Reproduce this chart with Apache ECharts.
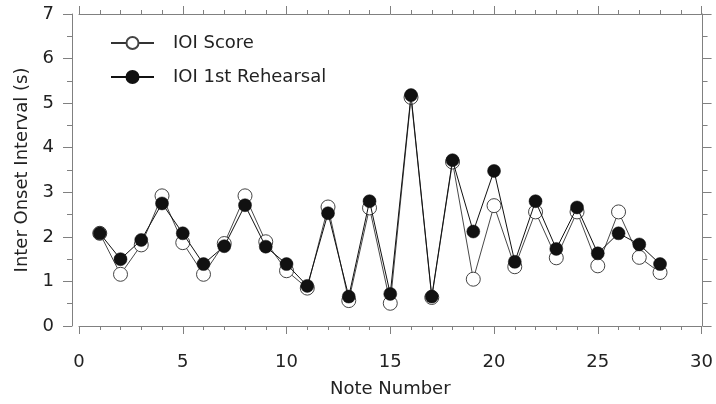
<!DOCTYPE html>
<html>
<head>
<meta charset="utf-8">
<script src="https://cdn.jsdelivr.net/npm/echarts@6/dist/echarts.min.js"></script>
<style>
html,body{margin:0;padding:0;background:#fff;}
#chart{width:716px;height:404px;}
</style>
</head>
<body>
<div id="chart"></div>
<script>
var noteNumbers = [1,2,3,4,5,6,7,8,9,10,11,12,13,14,15,16,17,18,19,20,21,22,23,24,25,26,27,28];
var ioiScore = [2.08,1.16,1.82,2.92,1.87,1.16,1.85,2.92,1.89,1.24,0.85,2.67,0.57,2.65,0.51,5.13,0.64,3.68,1.05,2.70,1.33,2.56,1.53,2.56,1.35,2.56,1.54,1.20];
var ioiRehearsal = [2.08,1.50,1.93,2.75,2.08,1.39,1.79,2.71,1.78,1.39,0.90,2.53,0.66,2.80,0.72,5.18,0.66,3.72,2.12,3.48,1.44,2.80,1.73,2.66,1.63,2.08,1.83,1.39];
var xTicks = [0,5,10,15,20,25,30];
var yTicks = [0,1,2,3,4,5,6,7];

var FONT = 'DejaVu Sans';
var axisColor = '#808080';
var textColor = '#222';

function pairs(xs, ys){ return xs.map(function(x,i){ return [x, ys[i]]; }); }

var chart = echarts.init(document.getElementById('chart'));
var baseX = {
  type:'value', min:xTicks[0], max:xTicks[xTicks.length-1], interval:5,
  axisLine:{show:true, onZero:false, lineStyle:{color:axisColor, width:1}},
  axisTick:{show:true, inside:false, length:8, lineStyle:{color:axisColor}},
  minorTick:{show:true, splitNumber:5, length:4, lineStyle:{color:axisColor}},
  splitLine:{show:false}
};
var baseY = {
  type:'value', min:yTicks[0], max:yTicks[yTicks.length-1], interval:1,
  axisLine:{show:true, onZero:false, lineStyle:{color:axisColor, width:1}},
  axisTick:{show:true, inside:false, length:9, lineStyle:{color:axisColor}},
  minorTick:{show:true, splitNumber:2, length:5, lineStyle:{color:axisColor}},
  splitLine:{show:false}
};
var option = {
  animation:false,
  backgroundColor:'#fff',
  grid:{left:79, right:14, top:14, bottom:78, containLabel:false},
  legend:{
    orient:'vertical', left:105, top:29, itemGap:16,
    itemWidth:43, itemHeight:15,
    textStyle:{fontFamily:FONT, fontSize:18, color:textColor, padding:[0,0,0,14]},
    data:['IOI Score','IOI 1st Rehearsal']
  },
  xAxis:[
    Object.assign({}, baseX, {
      position:'bottom',
      name:'Note Number', nameLocation:'middle', nameGap:54,
      nameTextStyle:{fontFamily:FONT, fontSize:18, color:textColor},
      axisLabel:{show:true, margin:27, fontFamily:FONT, fontSize:18, color:textColor,
        formatter:function(v){ return xTicks.indexOf(v)>=0 ? String(v) : ''; }}
    }),
    Object.assign({}, baseX, {position:'top', axisLabel:{show:false}})
  ],
  yAxis:[
    Object.assign({}, baseY, {
      position:'left', offset:7,
      name:'Inter Onset Interval (s)', nameLocation:'middle', nameGap:40,
      nameTextStyle:{fontFamily:FONT, fontSize:18, color:textColor},
      axisLabel:{show:true, margin:18, fontFamily:FONT, fontSize:18, color:textColor,
        formatter:function(v){ return yTicks.indexOf(v)>=0 ? String(v) : ''; }}
    }),
    Object.assign({}, baseY, {position:'right', offset:1, axisLabel:{show:false}})
  ],
  series:[
    {
      name:'IOI Score', type:'line', xAxisIndex:0, yAxisIndex:0,
      data:pairs(noteNumbers, ioiScore),
      symbol:'circle', symbolSize:14,
      lineStyle:{color:'#333', width:0.9},
      itemStyle:{color:'#fff', borderColor:'#444', borderWidth:1},
      z:2
    },
    {
      name:'IOI 1st Rehearsal', type:'line', xAxisIndex:0, yAxisIndex:0,
      data:pairs(noteNumbers, ioiRehearsal),
      symbol:'circle', symbolSize:13,
      lineStyle:{color:'#111', width:1},
      itemStyle:{color:'#111', borderColor:'#111', borderWidth:0.5},
      z:3
    }
  ]
};
chart.setOption(option);
</script>
</body>
</html>
